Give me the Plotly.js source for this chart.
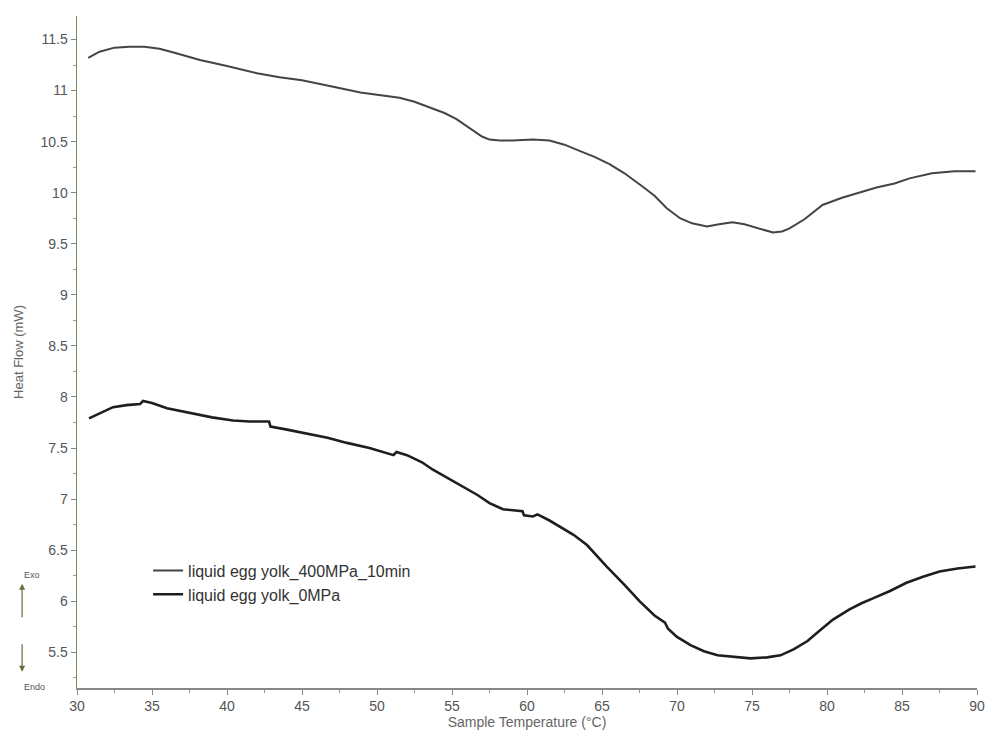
<!DOCTYPE html>
<html>
<head>
<meta charset="utf-8">
<script src="https://cdn.plot.ly/plotly-3.0.1.min.js"></script>
<style>html,body{margin:0;padding:0;background:#fff;}#chart{width:987px;height:734px;}</style>
</head>
<body>
<div id="chart"></div>
<script>
// 400 MPa, 10 min
const temp400 = [30.75,31.5,32.5,33.5,34.5,35.5,36.5,38.2,40,42,43.5,45,47,48.9,50,51.5,52.5,53.7,54.5,55.3,56.2,57,57.5,58.2,59,60.4,61.5,62.5,63.5,64.5,65.5,66.5,67.7,68.5,69.3,70.2,71,72,72.8,73.7,74.5,75.5,76.4,77,77.5,78.5,79.7,81,82.2,83.3,84.5,85.5,87,88.5,89.9];
const heat400 = [11.32,11.38,11.42,11.43,11.43,11.41,11.37,11.30,11.24,11.17,11.13,11.10,11.04,10.98,10.96,10.93,10.89,10.82,10.78,10.72,10.63,10.55,10.52,10.51,10.51,10.52,10.51,10.47,10.41,10.35,10.28,10.19,10.06,9.97,9.85,9.75,9.70,9.67,9.69,9.71,9.69,9.65,9.61,9.62,9.65,9.74,9.88,9.95,10.00,10.05,10.09,10.14,10.19,10.21,10.21];
// 0 MPa
const temp0 = [30.8,31.5,32.4,33.3,34.2,34.4,35,36,37.7,39,40.4,41.5,42.8,42.9,44,45,46.7,48,49.5,51.1,51.3,52,53,53.7,55,56.7,57.5,58.4,59.7,59.8,60.4,60.7,61.5,63.1,64,65.3,66.5,67.5,68.5,69.2,69.4,70,70.9,71.8,72.7,74,74.9,76,76.9,77.8,78.7,79.5,80.4,81.5,82.3,83.1,84.2,85.3,86.4,87.5,88.7,89.9];
const heat0 = [7.79,7.84,7.90,7.92,7.93,7.96,7.94,7.89,7.84,7.80,7.77,7.76,7.76,7.71,7.68,7.65,7.60,7.55,7.50,7.43,7.46,7.43,7.36,7.29,7.18,7.04,6.96,6.90,6.88,6.84,6.83,6.85,6.79,6.65,6.55,6.34,6.16,6.00,5.86,5.79,5.73,5.65,5.57,5.51,5.47,5.45,5.44,5.45,5.47,5.53,5.61,5.71,5.82,5.92,5.98,6.03,6.10,6.18,6.24,6.29,6.32,6.34];
const seriesNames = ['liquid egg yolk_400MPa_10min','liquid egg yolk_0MPa'];
const xTitle = 'Sample Temperature (°C)';
const yTitle = 'Heat Flow (mW)';

const FONT = 'Liberation Sans, Arial, sans-serif';
const traces = [
  {x: temp400, y: heat400, name: seriesNames[0], mode: 'lines', line: {color: '#444444', width: 2}},
  {x: temp0, y: heat0, name: seriesNames[1], mode: 'lines', line: {color: '#1e1e1e', width: 2.6}}
];
const layout = {
  width: 987, height: 734,
  margin: {l: 77, r: 10, t: 16, b: 46},
  paper_bgcolor: '#fff', plot_bgcolor: '#fff',
  font: {family: FONT, color: '#555'},
  showlegend: true,
  legend: {x: 0.079, y: 0.2, xanchor: 'left', yanchor: 'top', bgcolor: 'rgba(0,0,0,0)',
           font: {size: 16, color: '#333', family: FONT}, itemwidth: 30, tracegroupgap: 0},
  xaxis: {range: [30, 90], dtick: 5, tick0: 30, showgrid: false, zeroline: false,
          showline: true, linecolor: '#888', linewidth: 1.5, ticks: 'outside', ticklen: 5, tickcolor: '#888',
          minor: {dtick: 2.5, ticks: 'outside', ticklen: 3, tickcolor: '#999'},
          tickfont: {size: 14, color: '#555'},
          title: {text: xTitle, font: {size: 14, color: '#666'}, standoff: 2}},
  yaxis: {range: [5.15, 11.73], dtick: 0.5, tick0: 5.5, showgrid: false, zeroline: false,
          showline: true, linecolor: '#6f8f60', linewidth: 1.5, ticks: 'outside', ticklen: 5, tickcolor: '#888',
          minor: {dtick: 0.25, ticks: 'outside', ticklen: 3, tickcolor: '#999'},
          tickfont: {size: 14, color: '#555'},
          title: {text: yTitle, font: {size: 13, color: '#666'}, standoff: 14}},
  annotations: [
    {xref: 'paper', yref: 'paper', x: -0.061, y: 0.158, text: 'Exo', showarrow: false, font: {size: 9, color: '#555'}},
    {xref: 'paper', yref: 'paper', x: -0.061, y: -0.009, text: 'Endo', showarrow: false, font: {size: 9, color: '#555'}},
    {xref: 'paper', yref: 'paper', x: -0.061, y: 0.155, text: '', showarrow: true, ax: 0, ay: 35,
     arrowhead: 2, arrowsize: 1, arrowwidth: 1.2, arrowcolor: '#6b6b3a'},
    {xref: 'paper', yref: 'paper', x: -0.061, y: 0.024, text: '', showarrow: true, ax: 0, ay: -29,
     arrowhead: 2, arrowsize: 1, arrowwidth: 1.2, arrowcolor: '#6b6b3a'}
  ]
};
Plotly.newPlot('chart', traces, layout, {displayModeBar: false, staticPlot: true});
</script>
</body>
</html>
